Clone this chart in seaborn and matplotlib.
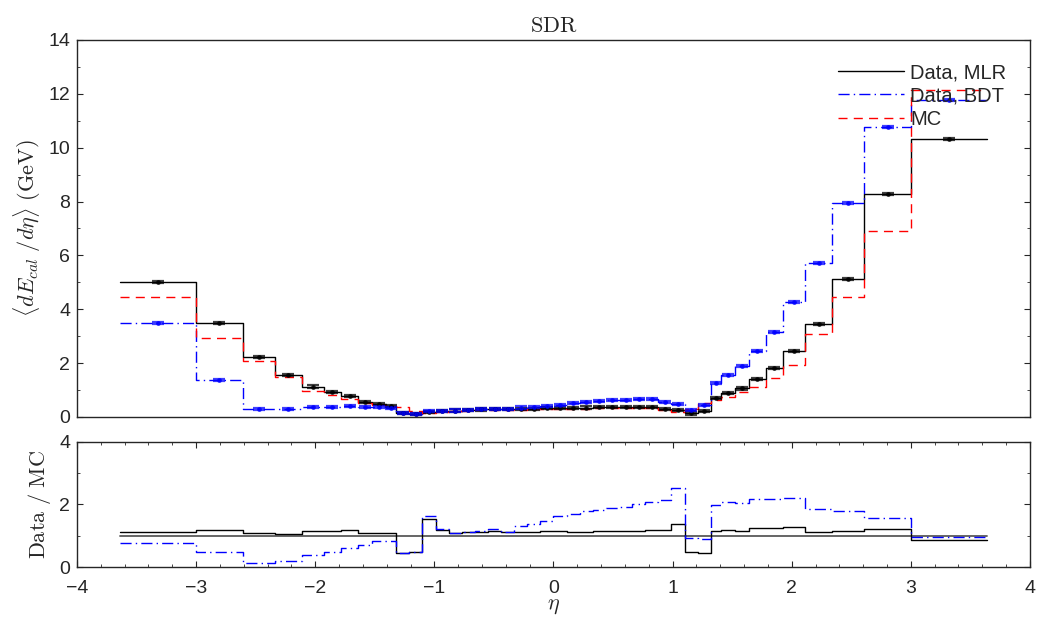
import numpy as np
import pandas as pd
import matplotlib
matplotlib.use('Agg')
import matplotlib.pyplot as plt
import seaborn as sns

# bin edges in eta
eta_edges = [-3.64, -3.00, -2.61, -2.34, -2.11, -1.93, -1.78, -1.64, -1.52, -1.41,
             -1.32, -1.21, -1.10, -0.99, -0.88, -0.77, -0.66, -0.55, -0.44, -0.33, -0.22, -0.11,
             0.00, 0.11, 0.22, 0.33, 0.44, 0.55, 0.66, 0.77, 0.88, 0.99, 1.10, 1.21, 1.32,
             1.41, 1.52, 1.64, 1.78, 1.93, 2.11, 2.34, 2.61, 3.00, 3.64]

# <dE_cal/deta> per bin (GeV)
mc = [4.47, 2.95, 2.09, 1.50, 0.97, 0.81, 0.66, 0.53, 0.44, 0.39,
      0.36, 0.21, 0.13, 0.18, 0.22, 0.23, 0.25, 0.25, 0.27, 0.27, 0.28, 0.28,
      0.28, 0.30, 0.31, 0.32, 0.33, 0.33, 0.33, 0.32, 0.26, 0.19, 0.28, 0.51,
      0.63, 0.75, 0.92, 1.13, 1.46, 1.93, 3.08, 4.45, 6.91, 12.15]
data_mlr = [5.00, 3.50, 2.24, 1.56, 1.13, 0.94, 0.77, 0.57, 0.48, 0.42,
            0.16, 0.10, 0.20, 0.21, 0.24, 0.26, 0.28, 0.285, 0.30, 0.305, 0.31, 0.32,
            0.32, 0.34, 0.35, 0.365, 0.38, 0.38, 0.38, 0.375, 0.31, 0.26, 0.13, 0.23,
            0.72, 0.88, 1.06, 1.40, 1.81, 2.44, 3.45, 5.12, 8.29, 10.32]
data_bdt = [3.48, 1.37, 0.29, 0.29, 0.38, 0.38, 0.40, 0.37, 0.36, 0.32,
            0.16, 0.10, 0.21, 0.22, 0.24, 0.26, 0.29, 0.30, 0.30, 0.35, 0.38, 0.41,
            0.46, 0.51, 0.55, 0.58, 0.62, 0.63, 0.66, 0.66, 0.56, 0.48, 0.26, 0.46,
            1.25, 1.55, 1.89, 2.45, 3.17, 4.26, 5.71, 7.95, 10.76, 11.77]

edges = np.array(eta_edges)
df = pd.DataFrame({'eta': (edges[:-1] + edges[1:]) / 2,
                   'mc': mc, 'mlr': data_mlr, 'bdt': data_bdt})
df['r_mlr'] = df['mlr'] / df['mc']
df['r_bdt'] = df['bdt'] / df['mc']
df['r_mc'] = df['mc'] / df['mc']

sns.set_style('ticks')
plt.rcParams['font.family'] = ['Liberation Sans', 'DejaVu Sans']
plt.rcParams['mathtext.fontset'] = 'cm'
plt.rcParams['axes.linewidth'] = 1.0

blue_dash = (0, (8, 3, 1, 3))
red_dash = (0, (6.5, 4.5))


def steps(ax, col, **kw):
    sns.histplot(data=df, x='eta', weights=col, bins=eta_edges, element='step',
                 fill=False, ax=ax, **kw)


fig = plt.figure(figsize=(10.43, 6.22), dpi=100)
ax = fig.add_axes([0.0738, 0.3296, 0.9137, 0.6061])
axr = fig.add_axes([0.0738, 0.0884, 0.9137, 0.2015])

# top panel
steps(ax, 'mlr', color='black', linewidth=1.0, label='Data, MLR')
steps(ax, 'bdt', color='blue', linewidth=1.0, linestyle=blue_dash, label='Data, BDT')
steps(ax, 'mc', color='red', linewidth=1.0, linestyle=red_dash, label='MC')
ax.errorbar(df['eta'], df['mlr'], yerr=0.04, fmt='.', color='black', ms=5,
            elinewidth=1, capsize=4, capthick=1.6, alpha=0.75)
ax.errorbar(df['eta'], df['bdt'], yerr=0.04, fmt='.', color='blue', ms=5,
            elinewidth=1, capsize=4, capthick=1.6, alpha=0.75)

ax.set_xlim(-4, 4)
ax.set_ylim(0, 14)
ax.set_xticks([])
ax.set_yticks(range(0, 15, 2))
ax.set_yticks(range(0, 15, 1), minor=True)
ax.tick_params(axis='y', which='both', direction='in', left=True, right=True, labelsize=14)
ax.tick_params(axis='y', which='major', length=4.5, pad=5)
ax.tick_params(axis='y', which='minor', length=2.5)
ax.set_xlabel('')
ax.set_ylabel(r'$\langle dE_{cal}\ /d\eta\rangle\ \mathrm{(GeV)}$', fontsize=16, labelpad=4)
ax.set_title(r'$\mathrm{SDR}$', fontsize=16, pad=6)
handles, labels = ax.get_legend_handles_labels()
ax.legend(handles, labels, loc='upper right', frameon=False, fontsize=14.5,
          handlelength=3.3, handletextpad=0.3, labelspacing=0.2,
          borderaxespad=0.3, bbox_to_anchor=(0.99, 0.975))

# ratio panel
steps(axr, 'r_mc', color='0.35', linewidth=1.3)
steps(axr, 'r_mlr', color='black', linewidth=1.0)
steps(axr, 'r_bdt', color='blue', linewidth=1.0, linestyle=blue_dash)
axr.set_xlim(-4, 4)
axr.set_ylim(0, 4)
axr.set_xticks(range(-4, 5))
axr.set_xticks(np.arange(-4, 4.01, 0.2), minor=True)
axr.set_xticklabels(['\u22124', '\u22123', '\u22122', '\u22121', '0', '1', '2', '3', '4'])
axr.set_yticks([0, 2, 4])
axr.set_yticks([1, 3], minor=True)
axr.tick_params(which='both', direction='in', top=True, bottom=True, left=True, right=True,
                labelsize=14)
axr.tick_params(which='major', length=4.5)
axr.tick_params(which='minor', length=2.5)
axr.tick_params(axis='x', which='major', pad=9)
axr.tick_params(axis='y', which='major', pad=5)
axr.set_xlabel(r'$\eta$', fontsize=16, labelpad=-1)
axr.set_ylabel(r'$\mathrm{Data\ /\ MC}$', fontsize=16, labelpad=4)

fig.savefig('out.png', dpi=100)
